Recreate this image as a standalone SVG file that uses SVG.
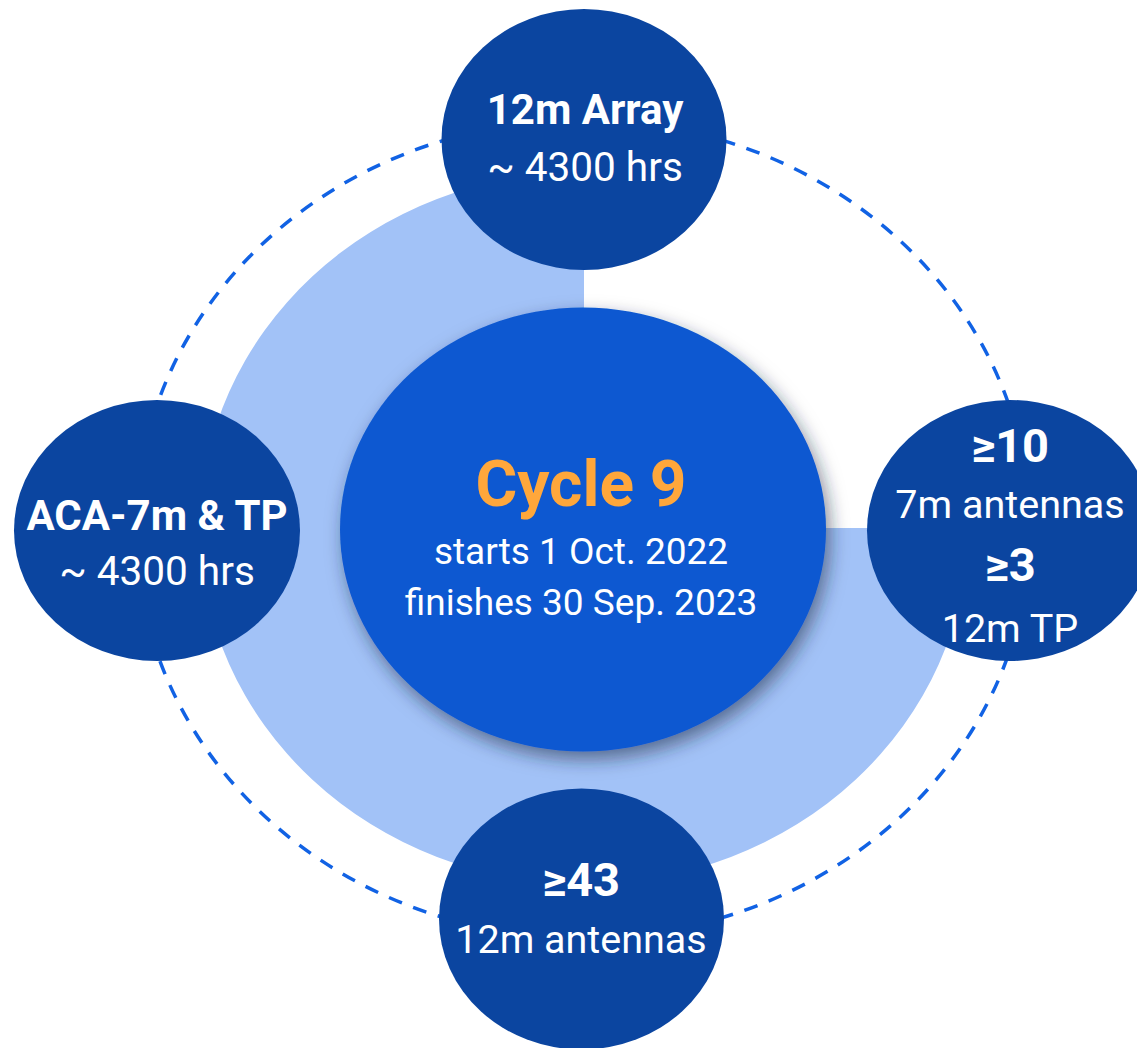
<svg xmlns="http://www.w3.org/2000/svg" width="1137" height="1048" viewBox="0 0 1137 1048">
  <defs>
    <filter id="drop" x="-20%" y="-20%" width="140%" height="140%">
      <feGaussianBlur in="SourceAlpha" stdDeviation="9"/>
      <feOffset dx="4" dy="8" result="blur"/>
      <feFlood flood-color="#1a2740" flood-opacity="0.55"/>
      <feComposite in2="blur" operator="in"/>
      <feMerge>
        <feMergeNode/>
        <feMergeNode in="SourceGraphic"/>
      </feMerge>
    </filter>
  </defs>
  <style>
    .node { fill: #0B45A0; }
    .hub { fill: #0D58D1; }
    .band { fill: #A2C2F7; }
    .orbit { fill: none; stroke: #1162E4; stroke-width: 3.5; stroke-dasharray: 14 12; }
    text { font-family: Roboto, "Liberation Sans", sans-serif; fill: #FFFFFF; text-anchor: middle; }
    .t { font-size: 42px; font-weight: 700; }
    .n { font-size: 47px; font-weight: 700; }
    .s { font-size: 40.5px; font-weight: 400; }
    .u { font-size: 39.5px; font-weight: 400; }
    .big { font-size: 64px; font-weight: 700; fill: #FFA73B; }
    .sub { font-size: 37px; font-weight: 400; }
  </style>

  <!-- background band: ellipse with the upper-right quarter removed -->
  <path class="band" d="M 584 528 L 968 528 A 384 356 0 1 1 584 172 Z"/>

  <!-- dashed orbit joining the outer nodes -->
  <g id="connectors">
    <ellipse class="orbit" cx="583" cy="529" rx="447" ry="409"/>
  </g>

  <g id="cycle9">
    <ellipse class="hub" cx="583" cy="529.5" rx="243" ry="222" filter="url(#drop)"/>
    <text class="big" x="581" y="506">Cycle 9</text>
    <text class="sub" x="581" y="564">starts 1 Oct. 2022</text>
    <text class="sub" x="581" y="615">finishes 30 Sep. 2023</text>
  </g>

  <g id="array12m">
    <ellipse class="node" cx="584" cy="139.5" rx="142.5" ry="130.5"/>
    <text class="t" x="585" y="124">12m Array</text>
    <text class="s" x="585" y="181">~ 4300 hrs</text>
  </g>

  <g id="aca7m">
    <ellipse class="node" cx="157" cy="530.5" rx="143" ry="130.5"/>
    <text class="t" x="157" y="530">ACA-7m &amp; TP</text>
    <text class="s" x="157" y="585">~ 4300 hrs</text>
  </g>

  <g id="antennas7m">
    <ellipse class="node" cx="1010" cy="530.5" rx="143" ry="130.5"/>
    <text class="n" x="1010" y="462">≥10</text>
    <text class="u" x="1010" y="518">7m antennas</text>
    <text class="n" x="1010" y="581">≥3</text>
    <text class="u" x="1010" y="642">12m TP</text>
  </g>

  <g id="antennas12m">
    <ellipse class="node" cx="581.5" cy="919" rx="142.5" ry="130.5"/>
    <text class="n" x="581" y="896">≥43</text>
    <text class="u" x="581" y="953">12m antennas</text>
  </g>
</svg>
